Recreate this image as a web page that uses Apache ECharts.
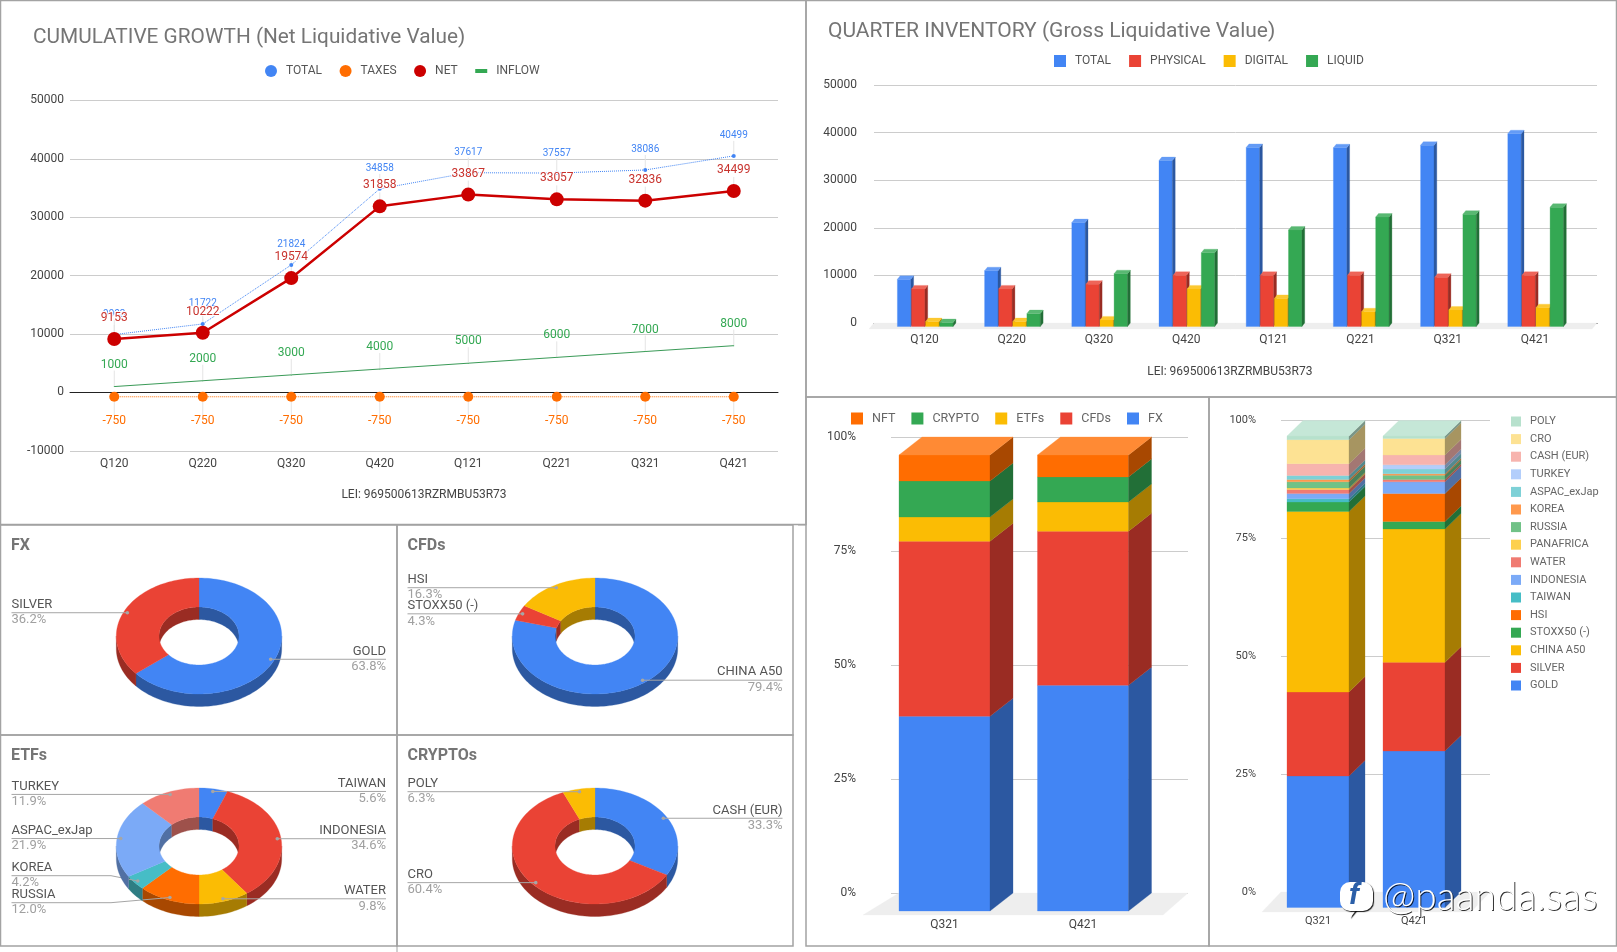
<!DOCTYPE html>
<html><head><meta charset="utf-8">
<style>html,body{margin:0;padding:0;background:#fff}#c{width:1617px;height:952px}</style>
<script src="https://cdn.jsdelivr.net/npm/echarts@6/dist/echarts.min.js"></script>
</head><body><div id="c"></div>
<script>
// ---------- data ----------
const quarters=['Q120','Q220','Q320','Q420','Q121','Q221','Q321','Q421'];
const totalValues=[9903,11722,21824,34858,37617,37557,38086,40499];
const taxValues=[-750,-750,-750,-750,-750,-750,-750,-750];
const netValues=[9153,10222,19574,31858,33867,33057,32836,34499];
const inflowValues=[1000,2000,3000,4000,5000,6000,7000,8000];
const physicalValues=[7900,7900,8900,10760,10760,10760,10350,10760];
const digitalValues=[1040,1040,1390,7900,5900,3100,3470,3960];
const liquidValues=[830,2710,11100,15500,20280,22990,23600,25070];
const stackQuarters=['Q321','Q421'];
const stackFX=[42.7,49.5], stackCFD=[38.4,33.8], stackETF=[5.3,6.4], stackCrypto=[7.9,5.5], stackNFT=[5.7,4.8];
const gold=[27.9,33.2], silver=[17.8,18.8], chinaA50=[38.3,28.3], stoxx50=[2.0,1.6], hsi=[0,5.9], taiwan=[0.7,0],
  indonesia=[1.1,2.5], water=[0.85,0.5], panafrica=[0.35,0], russia=[1.3,0.9], korea=[0.5,0.3], aspac=[0.85,1.0],
  turkey=[0,0.9], cashEur=[2.5,2.1], cro=[5.1,3.5], poly=[0.75,0.5];
const fxNames=['GOLD','SILVER'], fxValues=[63.8,36.2];
const cfdNames=['CHINA A50','STOXX50 (-)','HSI'], cfdValues=[79.4,4.3,16.3];
const etfNames=['TAIWAN','INDONESIA','WATER','RUSSIA','KOREA','ASPAC_exJap','TURKEY'], etfValues=[5.6,34.6,9.8,12.0,4.2,21.9,11.9];
const cryptoNames=['CASH (EUR)','CRO','POLY'], cryptoValues=[33.3,60.4,6.3];

// ---------- styles ----------
const BLUE='#4285F4',RED='#EA4335',YEL='#FBBC04',GRN='#34A853',ORG='#FF6D01',TEAL='#46BDC6',LBLUE='#7BAAF7',SALMON='#F07B72';
const FONT='Roboto';
function shade(c,k){const n=parseInt(c.slice(1),16);const f=v=>Math.round(k<1?v*k:v+(255-v)*(k-1));
  return 'rgb('+f(n>>16)+','+f((n>>8)&255)+','+f(n&255)+')';}
const poly4=(pts,fill)=>({type:'polygon',shape:{points:pts},style:{fill,stroke:fill,lineWidth:0.3}});

// 3D grouped bar
function bar3d(i){return (p,api)=>{
  const c=api.coord([api.value(0),0]),y=api.coord([api.value(0),api.value(1)])[1],col=api.visual('color');
  const x=c[0]-27.2+14.1*i,w=13.4,dx=2.8,dy=3.5,y0=c[1];
  return {type:'group',children:[
    poly4([[x,y+dy],[x+w,y+dy],[x+w,y0+dy],[x,y0+dy]],col),
    poly4([[x+w,y+dy],[x+w+dx,y],[x+w+dx,y0],[x+w,y0+dy]],shade(col,.66)),
    poly4([[x,y+dy],[x+dx,y],[x+w+dx,y],[x+w,y+dy]],shade(col,1.18))]};
};}
// 3D stacked bar
function stack3d(hw,dx,dy,isTop){return (p,api)=>{
  const a=api.value(1),b=api.value(2);if(b-a<=0)return {type:'group',children:[]};
  const col=api.visual('color'),c=api.coord([api.value(0),a]),y0=c[1],y1=api.coord([api.value(0),b])[1];
  const l=c[0]-hw,r=c[0]+hw;
  const ch=[poly4([[l,y1+dy],[r,y1+dy],[r,y0+dy],[l,y0+dy]],col),
    poly4([[r,y1+dy],[r+dx,y1],[r+dx,y0],[r,y0+dy]],shade(col,.66))];
  if(isTop)ch.push(poly4([[l,y1+dy],[l+dx,y1],[r+dx,y1],[r,y1+dy]],shade(col,1.2)));
  return {type:'group',children:ch};
};}
function stackSeries(list,hw,dx,dy,xi,yi){
  const base=stackQuarters.map(()=>0);
  return list.map((it,k)=>{
    const data=it.v.map((v,i)=>{const d=[i,base[i],base[i]+v];base[i]+=v;return d;});
    return {type:'custom',name:it.n,xAxisIndex:xi,yAxisIndex:yi,itemStyle:{color:it.c},
      encode:{x:0,y:[1,2]},data,renderItem:stack3d(hw,dx,dy,k===list.length-1)};
  });
}
function floor(xi,yi,inL,fdx,fdy,shr){return {type:'custom',xAxisIndex:xi,yAxisIndex:yi,silent:true,data:[[0,0]],encode:{x:0,y:1},
  renderItem:(p,api)=>{const g=p.coordSys,y=g.y+g.height,l=g.x+inL,r=g.x+g.width;
    return poly4([[l,y],[r,y],[r-shr,y+fdy],[l-fdx,y+fdy]],'#eeeeee');}};}

// pseudo-3D donut
const RX=82.7,RY=58,IX=40,IY=29,DEPTH=12.5,RAD=Math.PI/180;
function donut(name,names,values,colors,cx,cy,edgeL,edgeR,lineY){
  const tot=values.reduce((a,b)=>a+b,0);let acc=0;
  const ang=values.map(v=>{const s=acc/tot*360;acc+=v;return [s,acc/tot*360];});
  const P=(a,rx,ry,sh)=>[cx+rx*Math.sin(a*RAD),cy+(sh||0)-ry*Math.cos(a*RAD)];
  const arc=(a0,a1,rx,ry,sh)=>{const o=[],n=Math.max(2,Math.ceil((a1-a0)/2));for(let i=0;i<=n;i++)o.push(P(a0+(a1-a0)*i/n,rx,ry,sh));return o;};
  return {type:'custom',name:name,coordinateSystem:'none',silent:true,data:values.map((v,i)=>[i,v]),
    renderItem:(p,api)=>{
      const i=api.value(0),[a0,a1]=ang[i],col=colors[i],dk=shade(col,.66),ch=[];
      const s=Math.max(a0,90),e=Math.min(a1,270);
      if(e>s)ch.push(poly4(arc(s,e,RX,RY,0).concat(arc(s,e,RX,RY,DEPTH).reverse()),dk));
      [[0,90],[270,360]].forEach(([u,w])=>{const s2=Math.max(a0,u),e2=Math.min(a1,w);
        if(e2>s2)ch.push(poly4(arc(s2,e2,IX,IY,0).concat(arc(s2,e2,IX,IY,DEPTH).reverse()),dk));});
      ch.push(poly4(arc(a0,a1,RX,RY,0).concat(arc(a0,a1,IX,IY,0).reverse()),col));
      const mid=(a0+a1)/2,d=P(mid,RX*.955,RY*.955),left=mid>180,edge=left?edgeL:edgeR;
      const ly=(lineY&&lineY[names[i]])||d[1];
      const pts=Math.abs(ly-d[1])>1?[[edge,ly],[cx-88,ly],d]:[[edge,ly],d];
      ch.push({type:'polyline',shape:{points:pts},style:{stroke:'#a6a6a6',lineWidth:1,fill:null}});
      ch.push({type:'circle',shape:{cx:d[0],cy:d[1],r:1.8},style:{fill:'#a6a6a6'}});
      ch.push({type:'text',style:{text:names[i],x:edge,y:ly-8,fill:'#555',font:'13px '+FONT,align:left?'left':'right',verticalAlign:'middle'}});
      ch.push({type:'text',style:{text:values[i].toFixed(1)+'%',x:edge,y:ly+7.5,fill:'#a0a0a0',font:'13px '+FONT,align:left?'left':'right',verticalAlign:'middle'}});
      return {type:'group',children:ch};
    }};
}
const lineLabel=(color,size,dy,halo)=>({label:Object.assign({show:true,position:'inside',color,fontSize:size,fontFamily:FONT},halo?{textBorderColor:'#fff',textBorderWidth:2}:{}),
  labelLayout:{dy},labelLine:{show:true,lineStyle:{color:'#e4e4e4',width:1}}});

const axisTxt={color:'#444',fontSize:12,fontFamily:FONT};
const plainNum=v=>String(v);
const split={show:true,lineStyle:{color:'#ccc',width:1}};
const none={show:false};
const hiddenX=gi=>({type:'value',gridIndex:gi,min:0,max:1,show:true,axisLine:{show:true,onZero:true,lineStyle:{color:'#222'}},axisTick:none,axisLabel:none,splitLine:none});
const plainX=gi=>({type:'value',gridIndex:gi,min:0,max:1,show:false});
const hiddenY=(gi,a,b,iv)=>({type:'value',gridIndex:gi,min:a,max:b,interval:iv,show:false,splitLine:none});
const panel=(x,y,w,h)=>({type:'rect',shape:{x,y,width:w,height:h},style:{fill:'none',stroke:'#a3a3a3',lineWidth:1.5},z:0});
const stub=(x1,y1,x2,y2)=>({type:'line',shape:{x1,y1,x2,y2},style:{stroke:'#a3a3a3',lineWidth:1},z:0});
const legendBase={orient:'horizontal',padding:0,itemWidth:12,itemHeight:12,textStyle:{color:'#555',fontSize:12,fontFamily:FONT,padding:[0,0,0,4]}};
const titleBig=(text,left,top,size)=>({text,left,top,padding:0,textStyle:{color:'#757575',fontSize:size,fontWeight:'normal',fontFamily:FONT}});
const titleSmall=(text,left,top)=>({text,left,top,padding:0,textStyle:{color:'#757575',fontSize:16,fontWeight:'bold',fontFamily:FONT}});

const option={
  animation:false,backgroundColor:'#fff',textStyle:{fontFamily:FONT},
  title:[
    titleBig('CUMULATIVE GROWTH (Net Liquidative Value)',33,27,20.8),
    titleBig('QUARTER INVENTORY (Gross Liquidative Value)',828,21,21),
    titleSmall('FX',11,538),titleSmall('CFDs',407.5,538),titleSmall('ETFs',11,748),titleSmall('CRYPTOs',407.5,748)
  ],
  legend:[
    Object.assign({},legendBase,{left:265,top:65,itemGap:17.5,data:[
      {name:'TOTAL',icon:'circle'},{name:'TAXES',icon:'circle'},{name:'NET',icon:'circle'},
      {name:'INFLOW',icon:'path://M0 4H12V8H0Z'}]}),
    Object.assign({},legendBase,{left:1054,top:55,itemGap:18,data:['TOTAL','PHYSICAL','DIGITAL','LIQUID'].map(n=>({name:n,icon:'rect'}))}),
    Object.assign({},legendBase,{left:851,top:412,itemGap:16,textStyle:Object.assign({},legendBase.textStyle,{fontSize:12.5,color:'#666'}),
      data:['NFT','CRYPTO','ETFs','CFDs','FX'].map(n=>({name:n,icon:'rect'}))}),
    Object.assign({},legendBase,{orient:'vertical',left:1511,top:416,itemWidth:10,itemHeight:10,itemGap:6.6,
      textStyle:Object.assign({},legendBase.textStyle,{fontSize:11,color:'#666'}),
      data:['POLY','CRO','CASH (EUR)','TURKEY','ASPAC_exJap','KOREA','RUSSIA','PANAFRICA','WATER','INDONESIA','TAIWAN','HSI','STOXX50 (-)','CHINA A50','SILVER','GOLD'].map(n=>({name:n,icon:'rect'}))})
  ],
  grid:[
    {left:70,top:100.4,width:708,height:350.4},
    {left:874,top:85,width:723,height:238},
    {left:881,top:85,width:697.6,height:238},
    {left:891,top:437,width:297,height:456},
    {left:875.25,top:437,width:277,height:456},
    {left:1281,top:420.6,width:209,height:471.4},
    {left:1270,top:420.6,width:192,height:471.4}
  ],
  xAxis:[
    {type:'category',gridIndex:0,data:quarters,axisLine:{onZero:false,show:false},axisTick:none,axisLabel:Object.assign({margin:7},axisTxt),
      name:'LEI: 969500613RZRMBU53R73',nameLocation:'middle',nameGap:38,nameTextStyle:axisTxt},
    {type:'category',gridIndex:0,data:quarters,position:'bottom',axisLine:{show:true,onZero:true,lineStyle:{color:'#222'}},axisTick:none,axisLabel:none},
    hiddenX(1),
    {type:'category',gridIndex:2,data:quarters,axisLine:none,axisTick:none,axisLabel:Object.assign({margin:11},axisTxt),
      name:'LEI: 969500613RZRMBU53R73',nameLocation:'middle',nameGap:43,nameTextStyle:axisTxt},
    plainX(3),
    {type:'category',gridIndex:4,data:stackQuarters,axisLine:none,axisTick:none,axisLabel:Object.assign({margin:26},axisTxt)},
    plainX(5),
    {type:'category',gridIndex:6,data:stackQuarters,axisLine:none,axisTick:none,axisLabel:Object.assign({},axisTxt,{margin:24,fontSize:11})}
  ],
  yAxis:[
    {type:'value',gridIndex:0,min:-10000,max:50000,interval:10000,axisLine:none,axisTick:none,axisLabel:Object.assign({margin:6,formatter:plainNum},axisTxt),splitLine:split},
    {type:'value',gridIndex:1,min:0,max:50000,interval:10000,axisLine:none,axisTick:none,axisLabel:Object.assign({margin:17,formatter:plainNum},axisTxt),splitLine:split},
    hiddenY(2,0,50000,10000),
    {type:'value',gridIndex:3,min:0,max:100,interval:25,axisLine:none,axisTick:none,axisLabel:Object.assign({margin:35,formatter:'{value}%'},axisTxt),splitLine:split},
    hiddenY(4,0,100,25),
    {type:'value',gridIndex:5,min:0,max:100,interval:25,axisLine:none,axisTick:none,axisLabel:Object.assign({},axisTxt,{margin:25,fontSize:11,formatter:'{value}%'}),splitLine:split},
    hiddenY(6,0,100,25)
  ],
  series:[
    Object.assign({type:'line',name:'INFLOW',xAxisIndex:0,yAxisIndex:0,data:inflowValues,symbol:'circle',symbolSize:1,showSymbol:true,
      itemStyle:{color:GRN},lineStyle:{color:'#3a9a57',width:1}},lineLabel(GRN,12,-22)),
    Object.assign({type:'line',name:'TAXES',xAxisIndex:0,yAxisIndex:0,data:taxValues,symbol:'circle',symbolSize:10,
      itemStyle:{color:ORG},lineStyle:{color:ORG,width:1,type:'dotted'}},lineLabel(ORG,12,24.5)),
    Object.assign({type:'line',name:'TOTAL',xAxisIndex:0,yAxisIndex:0,data:totalValues,symbol:'circle',symbolSize:4,
      itemStyle:{color:BLUE},lineStyle:{color:BLUE,width:1,type:'dotted'}},lineLabel(BLUE,10,-20)),
    Object.assign({type:'line',name:'NET',xAxisIndex:0,yAxisIndex:0,data:netValues,symbol:'circle',symbolSize:14,
      itemStyle:{color:'#CC0000'},lineStyle:{color:'#CC0000',width:2.5}},lineLabel('#C8332E',12,-21,true)),
    floor(2,1,0,5,6,5),
    {type:'custom',name:'TOTAL',xAxisIndex:3,yAxisIndex:2,itemStyle:{color:BLUE},encode:{x:0,y:1},data:totalValues.map((v,i)=>[i,v]),renderItem:bar3d(0)},
    {type:'custom',name:'PHYSICAL',xAxisIndex:3,yAxisIndex:2,itemStyle:{color:RED},encode:{x:0,y:1},data:physicalValues.map((v,i)=>[i,v]),renderItem:bar3d(1)},
    {type:'custom',name:'DIGITAL',xAxisIndex:3,yAxisIndex:2,itemStyle:{color:YEL},encode:{x:0,y:1},data:digitalValues.map((v,i)=>[i,v]),renderItem:bar3d(2)},
    {type:'custom',name:'LIQUID',xAxisIndex:3,yAxisIndex:2,itemStyle:{color:GRN},encode:{x:0,y:1},data:liquidValues.map((v,i)=>[i,v]),renderItem:bar3d(3)},
    floor(4,3,8,36,22,25),
    ...stackSeries([{n:'FX',v:stackFX,c:BLUE},{n:'CFDs',v:stackCFD,c:RED},{n:'ETFs',v:stackETF,c:YEL},{n:'CRYPTO',v:stackCrypto,c:GRN},{n:'NFT',v:stackNFT,c:ORG}],45.5,23,18,5,4),
    floor(6,5,0,19,20,19),
    ...stackSeries([
      {n:'GOLD',v:gold,c:BLUE},{n:'SILVER',v:silver,c:RED},{n:'CHINA A50',v:chinaA50,c:YEL},{n:'STOXX50 (-)',v:stoxx50,c:GRN},
      {n:'HSI',v:hsi,c:ORG},{n:'TAIWAN',v:taiwan,c:TEAL},{n:'INDONESIA',v:indonesia,c:LBLUE},{n:'WATER',v:water,c:SALMON},
      {n:'PANAFRICA',v:panafrica,c:'#FDD04F'},{n:'RUSSIA',v:russia,c:'#71C287'},{n:'KOREA',v:korea,c:'#FF994D'},{n:'ASPAC_exJap',v:aspac,c:'#7ED1D7'},
      {n:'TURKEY',v:turkey,c:'#B3CEFB'},{n:'CASH (EUR)',v:cashEur,c:'#F7B4AE'},{n:'CRO',v:cro,c:'#FDE293'},{n:'POLY',v:poly,c:'#B7E1CD'}
    ],31,16,15.5,7,6),
    donut('FX donut',fxNames,fxValues,[BLUE,RED],199,636,11.5,386),
    donut('CFD donut',cfdNames,cfdValues,[BLUE,RED,YEL],595,636,407.5,782.5),
    donut('ETF donut',etfNames,etfValues,[BLUE,RED,YEL,ORG,TEAL,LBLUE,SALMON],199,846,11.5,386,{KOREA:875.7,RUSSIA:902.7}),
    donut('Crypto donut',cryptoNames,cryptoValues,[BLUE,RED,YEL],595,846,407.5,782.5)
  ],
  graphic:[
    panel(0.5,0.5,805.5,524),panel(806,0.5,810.5,396.5),
    panel(0.5,525,396.5,210),panel(397,525,396,210),panel(0.5,735,396.5,211),panel(397,735,396,211),
    panel(806,397,403,549),panel(1209,397,407.5,549),
    stub(798,525,806,525),stub(397,946,397,952),
    {type:'polygon',z:200,shape:{points:[[1350,908],[1358,908],[1350,918],[1352,911]]},style:{fill:'#fff',shadowColor:'rgba(0,0,0,.9)',shadowBlur:1,shadowOffsetX:1,shadowOffsetY:1}},
    {type:'rect',z:200,shape:{x:1340,y:882,width:33,height:29,r:10},style:{fill:'#fff',shadowColor:'rgba(0,0,0,.9)',shadowBlur:1,shadowOffsetX:1,shadowOffsetY:1}},
    {type:'text',z:201,x:1349,y:881,style:{text:'f',font:'italic bold 30px Roboto',fill:'#2B5FA8',textShadowColor:'#111',textShadowBlur:0,textShadowOffsetX:1,textShadowOffsetY:1}},
    {type:'text',z:201,x:1383,y:878,style:{text:'@paanda.sas',font:'300 39px Lato',fill:'#fff',textShadowColor:'rgba(0,0,0,.8)',textShadowBlur:0.5,textShadowOffsetX:1,textShadowOffsetY:1}}
  ]
};
const chart=echarts.init(document.getElementById('c'),null,{renderer:'canvas'});
chart.setOption(option);
</script></body></html>
